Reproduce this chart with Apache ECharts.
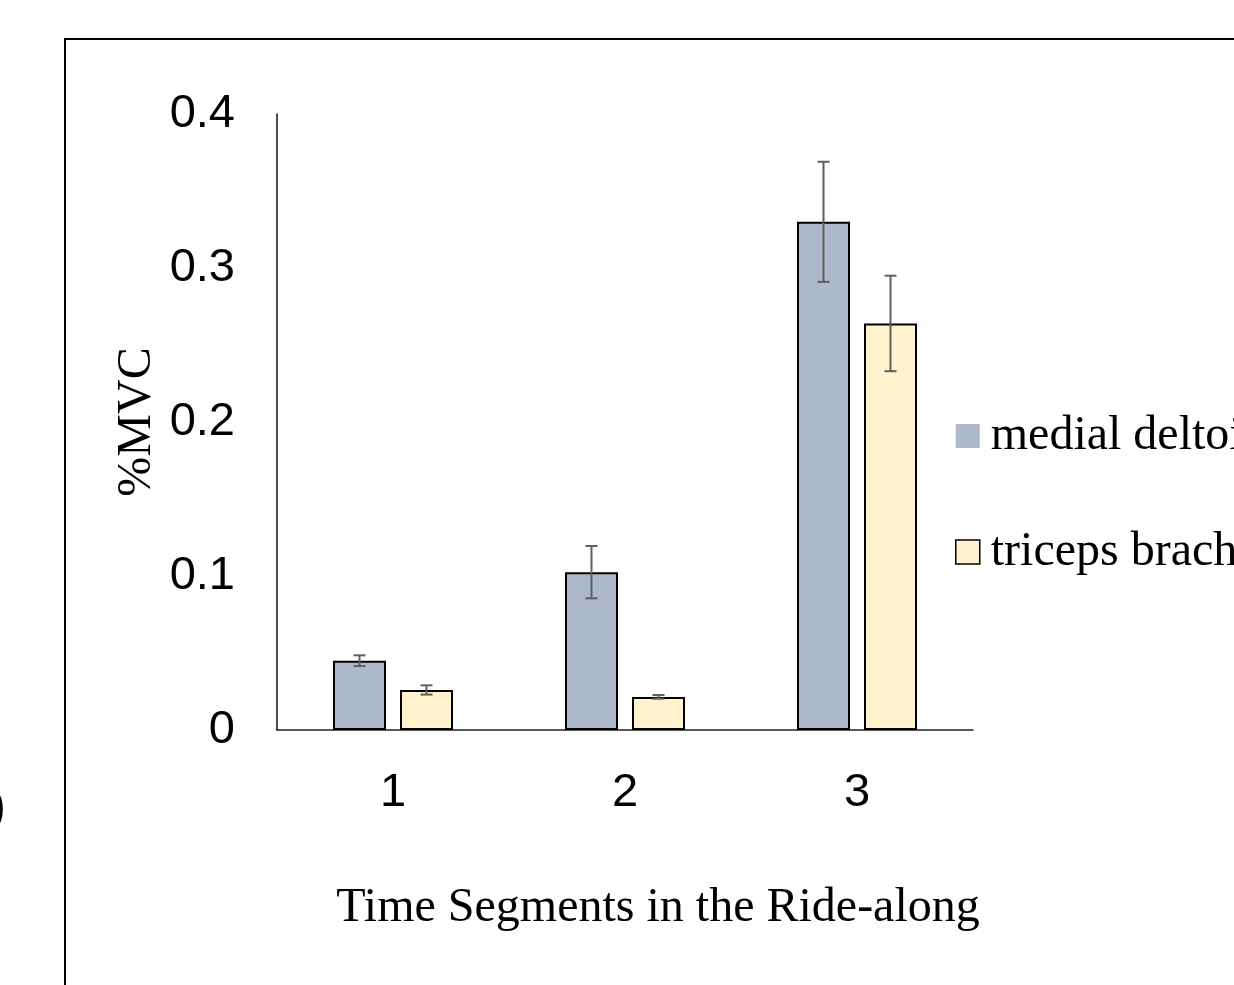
<!DOCTYPE html>
<html>
<head>
<meta charset="utf-8">
<script src="https://cdn.jsdelivr.net/npm/echarts@6/dist/echarts.min.js"></script>
<style>
  html, body { margin: 0; padding: 0; background: #fff; }
  #chart { width: 1234px; height: 985px; }
</style>
</head>
<body>
<div id="chart"></div>
<script>
// time segments on the x axis
var segments = ['1', '2', '3']
var seriesNames = ['medial deltoid', 'triceps brachii']
// mean %MVC per segment
var deltoid = [0.045, 0.1025, 0.330]
var triceps = [0.026, 0.0215, 0.264]
// half-length of the error bars
var deltoidErr = [0.0035, 0.017, 0.039]
var tricepsErr = [0.003, 0.0012, 0.031]
var yTicks = [0, 0.1, 0.2, 0.3, 0.4]

var chart = echarts.init(document.getElementById('chart'))

var barW = 53
var gap = 14

// error bars drawn with the axis scale, shifted to sit on each bar
function errorSeries(values, errs, side) {
  return {
    type: 'custom',
    z: 10,
    data: values.map(function (v, i) { return [i, v - errs[i], v + errs[i]] }),
    renderItem: function (params, api) {
      var lo = api.coord([api.value(0), api.value(1)])
      var hi = api.coord([api.value(0), api.value(2)])
      var x = lo[0] + side * (barW + gap) / 2
      var cap = 6
      var style = { stroke: '#5f5f5f', lineWidth: 2 }
      return {
        type: 'group',
        children: [
          { type: 'line', shape: { x1: x, y1: lo[1], x2: x, y2: hi[1] }, style: style },
          { type: 'line', shape: { x1: x - cap, y1: lo[1], x2: x + cap, y2: lo[1] }, style: style },
          { type: 'line', shape: { x1: x - cap, y1: hi[1], x2: x + cap, y2: hi[1] }, style: style }
        ]
      }
    }
  }
}

var option = {
  animation: false,
  grid: { left: 277, top: 114, width: 696, height: 616 },
  legend: {
    orient: 'vertical',
    left: 955,
    top: 412,
    padding: 0,
    icon: 'rect',
    itemWidth: 24,
    itemHeight: 24,
    itemGap: 68,
    textStyle: { fontFamily: 'Liberation Serif', fontSize: 48, lineHeight: 48, color: '#000', padding: [0, 0, 0, 6] },
    data: [
      { name: seriesNames[0], itemStyle: { borderWidth: 0 } },
      { name: seriesNames[1], itemStyle: { borderColor: '#000', borderWidth: 1.5 } }
    ]
  },
  xAxis: {
    type: 'category',
    data: segments,
    axisLine: { lineStyle: { color: '#222', width: 1.5 } },
    axisTick: { show: false },
    axisLabel: { margin: 40, fontFamily: 'Liberation Sans', fontSize: 47, color: '#000' }
  },
  yAxis: {
    type: 'value',
    min: 0,
    max: 0.4,
    interval: 0.1,
    splitLine: { show: false },
    axisLine: { show: true, lineStyle: { color: '#111', width: 1.5 } },
    axisTick: { show: false },
    axisLabel: {
      margin: 42,
      fontFamily: 'Liberation Sans',
      fontSize: 47,
      color: '#000',
      formatter: function (v) { return yTicks.indexOf(Math.round(v * 10) / 10) >= 0 ? String(Math.round(v * 10) / 10) : '' }
    }
  },
  series: [
    {
      name: seriesNames[0],
      type: 'bar',
      data: deltoid,
      barWidth: barW,
      barGap: (gap / barW * 100) + '%',
      itemStyle: { color: '#adb9ca', borderColor: '#000', borderWidth: 2 }
    },
    {
      name: seriesNames[1],
      type: 'bar',
      data: triceps,
      barWidth: barW,
      itemStyle: { color: '#fff2cc', borderColor: '#000', borderWidth: 2 }
    },
    errorSeries(deltoid, deltoidErr, -1),
    errorSeries(triceps, tricepsErr, 1)
  ],
  graphic: [
    {
      type: 'rect',
      shape: { x: 65, y: 39, width: 1400, height: 1100 },
      style: { fill: 'none', stroke: '#000', lineWidth: 2 },
      silent: true
    },
    {
      type: 'text',
      x: 658,
      y: 908,
      style: {
        text: 'Time Segments in the Ride-along',
        fontFamily: 'Liberation Serif',
        fontSize: 48,
        fill: '#000',
        align: 'center',
        verticalAlign: 'middle'
      }
    },
    {
      type: 'text',
      x: 137,
      y: 422,
      rotation: Math.PI / 2,
      style: {
        text: '%MVC',
        fontFamily: 'Liberation Serif',
        fontSize: 48,
        fill: '#000',
        align: 'center',
        verticalAlign: 'middle'
      }
    },
    {
      type: 'text',
      x: 5,
      y: 808,
      style: {
        text: ')',
        fontFamily: 'Liberation Serif',
        fontSize: 52,
        fill: '#000',
        align: 'right',
        verticalAlign: 'middle'
      }
    }
  ]
}

chart.setOption(option)
</script>
</body>
</html>
